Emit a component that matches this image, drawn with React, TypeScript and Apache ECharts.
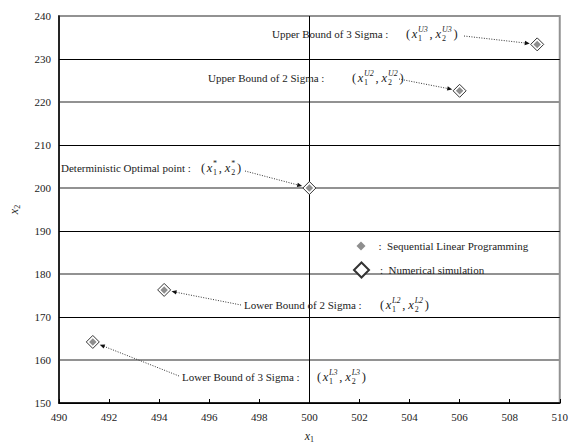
import React, { useEffect, useRef } from "react";
import * as echarts from "echarts";

// ---- data ----
const pointNames = [
  "Upper Bound of 3 Sigma",
  "Upper Bound of 2 Sigma",
  "Deterministic Optimal point",
  "Lower Bound of 2 Sigma",
  "Lower Bound of 3 Sigma",
];
const supLabels = ["U3", "U2", "*", "L2", "L3"];
const slpX = [509.1, 506.0, 500.0, 494.2, 491.35];
const slpY = [233.4, 222.6, 200.0, 176.3, 164.2];
const simX = [509.1, 506.0, 500.0, 494.2, 491.35];
const simY = [233.4, 222.6, 200.0, 176.3, 164.2];
const seriesNames = ["Sequential Linear Programming", "Numerical simulation"];
const xMin = 490, xMax = 510, xStep = 2;
const yMin = 150, yMax = 240, yStep = 10;

// ---- layout (pixel positions of annotation texts) ----
const annLayout = [
  { textX: 272, textY: 34, mathX: 406, arrowX: 464, arrowY: 36 },
  { textX: 208, textY: 78, mathX: 352, arrowX: 399, arrowY: 79 },
  { textX: 61, textY: 168, mathX: 201, arrowX: 245, arrowY: 171 },
  { textX: 244, textY: 305, mathX: 380, arrowX: 241, arrowY: 305 },
  { textX: 182, textY: 377, mathX: 317, arrowX: 179, arrowY: 376 },
];

const FONT = "Liberation Serif";
const TXT = "#222";
const GRAY = "#929292";

function measure(text: string, size: number, italic = false) {
  const c = document.createElement("canvas").getContext("2d")!;
  c.font = `${italic ? "italic " : ""}${size}px "${FONT}"`;
  return c.measureText(text).width;
}

function txt(text: string, x: number, y: number, size = 11, italic = false) {
  return {
    type: "text",
    x,
    y,
    silent: true,
    style: {
      text,
      fontSize: size,
      fontFamily: FONT,
      fontStyle: italic ? "italic" : "normal",
      fill: TXT,
      align: "left",
      verticalAlign: "middle",
    },
  };
}

function mathElems(x: number, y: number, sup: string) {
  const out: any[] = [];
  let cx = x;
  const M = 12.5;
  const S = 8;
  const part = (s: string, italic = false, extra = 0) => {
    out.push(txt(s, cx, y, M, italic));
    cx += measure(s, M, italic) + extra;
  };
  const stack = (sp: string, sb: string) => {
    out.push(txt(sp, cx + 0.8, y - 5, S, sp !== "*"));
    out.push(txt(sb, cx + 0.8, y + 4, S, false));
    cx += Math.max(measure(sp, S, true), measure(sb, S)) + 2.5;
  };
  part("(", false, 1.5);
  part("x", true);
  stack(sup, "1");
  part(",", false, 3);
  part("x", true);
  stack(sup, "2");
  part(")");
  return out;
}

export default function App() {
  const ref = useRef<HTMLDivElement>(null);
  useEffect(() => {
    document.body.style.margin = "0";
    const chart = echarts.init(ref.current!, null, { renderer: "svg", width: 571, height: 448 });
    const xCount = Math.round((xMax - xMin) / xStep) + 1;
    const xBlack = Array.from({ length: xCount }, (_, i) =>
      xMin + i * xStep === 500 ? "#000" : "rgba(0,0,0,0)"
    );
    const option: any = {
      animation: false,
      backgroundColor: "#fff",
      textStyle: { fontFamily: FONT },
      grid: {
        left: 53,
        right: 8,
        top: 16,
        bottom: 38,
        show: true,
        borderColor: GRAY,
        borderWidth: 2,
        backgroundColor: "rgba(0,0,0,0)",
      },
      xAxis: [
        {
          type: "value",
          min: xMin,
          max: xMax,
          interval: xStep,
          position: "bottom",
          name: "{i|x}{s|1}",
          nameLocation: "middle",
          nameGap: 26,
          nameTextStyle: {
            rich: {
              i: { fontFamily: FONT, fontStyle: "italic", fontSize: 12, color: TXT },
              s: { fontFamily: FONT, fontSize: 8, color: TXT, padding: [6, 0, 0, 0] },
            },
          },
          axisLine: { lineStyle: { color: "#000", width: 1.5 } },
          axisTick: { inside: true, length: 4, lineStyle: { color: "#000" } },
          axisLabel: { fontFamily: FONT, fontSize: 11, color: TXT, margin: 8 },
          splitLine: { show: true, lineStyle: { color: xBlack, width: 1 } },
        },
      ],
      yAxis: [
        {
          type: "value",
          min: yMin,
          max: yMax,
          interval: yStep,
          position: "left",
          name: "{i|x}{s|2}",
          nameLocation: "middle",
          nameGap: 38,
          nameRotate: 90,
          nameTextStyle: {
            rich: {
              i: { fontFamily: FONT, fontStyle: "italic", fontSize: 12, color: TXT },
              s: { fontFamily: FONT, fontSize: 8, color: TXT, padding: [6, 0, 0, 0] },
            },
          },
          axisLine: { show: true, lineStyle: { color: "#000", width: 1.5 } },
          axisTick: { show: false },
          axisLabel: { fontFamily: FONT, fontSize: 11, color: TXT, margin: 8 },
          splitLine: { show: true, lineStyle: { color: ["#000", GRAY], width: 1 } },
        },
        {
          type: "value",
          min: yMin,
          max: yMax,
          interval: yStep,
          position: "right",
          axisLine: { show: false },
          axisTick: { show: false },
          axisLabel: { show: false },
          splitLine: { show: true, lineStyle: { color: ["rgba(0,0,0,0)", GRAY], width: 2 } },
        },
      ],
      legend: [
        {
          data: [{ name: seriesNames[0], icon: "diamond" }],
          left: 356.5,
          top: 240.5,
          padding: 0,
          itemWidth: 9,
          itemHeight: 9,
          formatter: ":  {name}",
          selectedMode: false,
          textStyle: { fontFamily: FONT, fontSize: 11, color: TXT, padding: [0, 0, 0, 8] },
        },
        {
          data: [{ name: seriesNames[1], icon: "diamond" }],
          left: 353,
          top: 261.5,
          padding: 0,
          itemWidth: 15,
          itemHeight: 15,
          formatter: ":  {name}",
          selectedMode: false,
          textStyle: { fontFamily: FONT, fontSize: 11, color: TXT, padding: [0, 0, 0, 6] },
        },
      ],
      series: [
        {
          name: seriesNames[1],
          type: "scatter",
          xAxisIndex: 0,
          yAxisIndex: 0,
          symbol: "diamond",
          symbolSize: 13,
          itemStyle: { color: "#fff", borderColor: "#333", borderWidth: 1, opacity: 1 },
          data: simX.map((x, i) => [x, simY[i]]),
          z: 3,
        },
        {
          name: seriesNames[0],
          type: "scatter",
          xAxisIndex: 0,
          yAxisIndex: 0,
          symbol: "diamond",
          symbolSize: 7.5,
          itemStyle: { color: "#8e8e8e", opacity: 1 },
          data: slpX.map((x, i) => [x, slpY[i]]),
          z: 4,
        },
      ],
    };
    chart.setOption(option);

    const elems: any[] = [];
    pointNames.forEach((n, i) => {
      const L = annLayout[i];
      elems.push(txt(n + " :", L.textX, L.textY));
      elems.push(...mathElems(L.mathX, L.textY, supLabels[i]));
      const [px, py] = chart.convertToPixel({ seriesIndex: 0 }, [simX[i], simY[i]]) as number[];
      const dx = px - L.arrowX;
      const dy = py - L.arrowY;
      const len = Math.hypot(dx, dy);
      const ux = dx / len;
      const uy = dy / len;
      const ex = px - ux * 7.5;
      const ey = py - uy * 7.5;
      elems.push({
        type: "line",
        silent: true,
        shape: { x1: L.arrowX, y1: L.arrowY, x2: ex - ux * 4, y2: ey - uy * 4 },
        style: { stroke: "#333", lineWidth: 1, lineDash: [1, 1.5] },
      });
      elems.push({
        type: "polygon",
        silent: true,
        shape: {
          points: [
            [ex, ey],
            [ex - ux * 5 - uy * 2.2, ey - uy * 5 + ux * 2.2],
            [ex - ux * 5 + uy * 2.2, ey - uy * 5 - ux * 2.2],
          ],
        },
        style: { fill: "#111" },
      });
    });
    chart.setOption({ graphic: { elements: elems } });
    return () => chart.dispose();
  }, []);
  return (
    <div
      ref={ref}
      style={{ position: "fixed", left: 0, top: 0, width: 571, height: 448, background: "#fff" }}
    />
  );
}
